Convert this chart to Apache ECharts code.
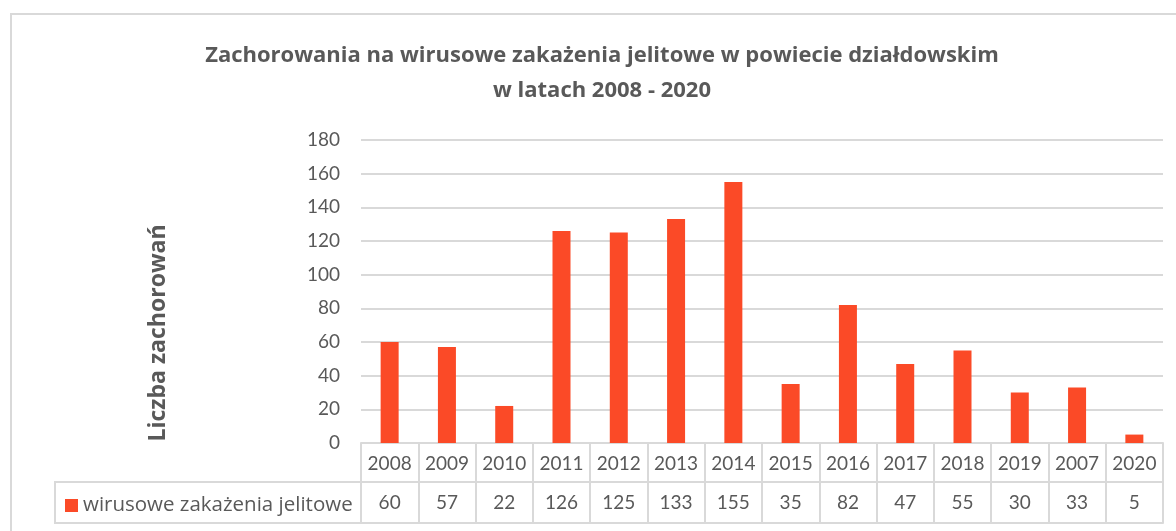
<!DOCTYPE html>
<html>
<head>
<meta charset="utf-8">
<script src="https://cdn.jsdelivr.net/npm/echarts@6/dist/echarts.min.js"></script>
<style>
  html, body { margin: 0; padding: 0; background: #fff; }
  #chart { width: 1176px; height: 531px; }
</style>
</head>
<body>
<div id="chart"></div>
<script>
// dane z wykresu
var years = ['2008', '2009', '2010', '2011', '2012', '2013', '2014', '2015', '2016', '2017', '2018', '2019', '2007', '2020'];
var cases = [60, 57, 22, 126, 125, 133, 155, 35, 82, 47, 55, 30, 33, 5];
var seriesName = 'wirusowe zakażenia jelitowe';
var yTicks = { min: 0, max: 180, step: 20 };

var font = 'Lato, "Open Sans", sans-serif';
var wideFont = '"Open Sans", Lato, sans-serif';
var grey = '#595959';
var lineGrey = '#d9d9d9';

var myChart = echarts.init(document.getElementById('chart'));
myChart.setOption({
  animation: false,
  title: {
    text: 'Zachorowania na wirusowe zakażenia jelitowe w powiecie działdowskim\nw latach 2008 - 2020',
    left: 597,
    top: 33,
    textAlign: 'center',
    textStyle: {
      fontFamily: wideFont,
      fontSize: 22,
      fontWeight: 'bold',
      color: grey,
      lineHeight: 35
    }
  },
  legend: {
    data: [seriesName],
    left: 60,
    top: 490,
    icon: 'rect',
    itemWidth: 13,
    itemHeight: 13,
    itemGap: 7,
    textStyle: { fontFamily: wideFont, fontSize: 20.5, color: grey }
  },
  grid: {
    left: 361,
    right: 13,
    top: 140,
    bottom: 88
  },
  xAxis: [
    {
      type: 'category',
      data: years,
      position: 'bottom',
      axisLine: { show: true, lineStyle: { color: lineGrey, width: 2 } },
      axisTick: { show: true, length: 39, interval: 0, lineStyle: { color: lineGrey, width: 2 } },
      axisLabel: { interval: 0, margin: 11, fontFamily: font, fontSize: 19, color: grey }
    },
    {
      type: 'category',
      data: cases.map(String),
      position: 'bottom',
      offset: 39,
      axisLine: { show: true, lineStyle: { color: lineGrey, width: 2 } },
      axisTick: { show: true, length: 41, interval: 0, lineStyle: { color: lineGrey, width: 2 } },
      axisLabel: { interval: 0, margin: 11, fontFamily: font, fontSize: 19, color: grey }
    },
    {
      type: 'category',
      data: years,
      position: 'bottom',
      offset: 80,
      axisLine: { show: true, lineStyle: { color: lineGrey, width: 2 } },
      axisTick: { show: false },
      axisLabel: { show: false }
    }
  ],
  yAxis: {
    type: 'value',
    min: yTicks.min,
    max: yTicks.max,
    interval: yTicks.step,
    axisLine: { show: false },
    axisTick: { show: false },
    axisLabel: { margin: 21, fontFamily: font, fontSize: 19, color: grey },
    splitLine: { lineStyle: { color: lineGrey, width: 2 } }
  },
  series: [
    {
      name: seriesName,
      type: 'bar',
      data: cases,
      barWidth: 18,
      itemStyle: { color: '#fb4a27' }
    }
  ],
  graphic: [
    {
      // ramka wykresu
      type: 'rect',
      shape: { x: 11, y: 14, width: 1200, height: 560 },
      style: { fill: 'none', stroke: lineGrey, lineWidth: 2 },
      silent: true
    },
    {
      // lewa komórka tabeli danych
      type: 'rect',
      shape: { x: 55, y: 482, width: 306, height: 41 },
      style: { fill: 'none', stroke: lineGrey, lineWidth: 2 },
      silent: true
    },
    {
      type: 'text',
      x: 158,
      y: 333,
      rotation: Math.PI / 2,
      style: {
        text: 'Liczba zachorowań',
        fontFamily: wideFont,
        fontSize: 23,
        fontWeight: 'bold',
        fill: grey,
        align: 'center',
        verticalAlign: 'middle'
      }
    }
  ]
});
</script>
</body>
</html>
